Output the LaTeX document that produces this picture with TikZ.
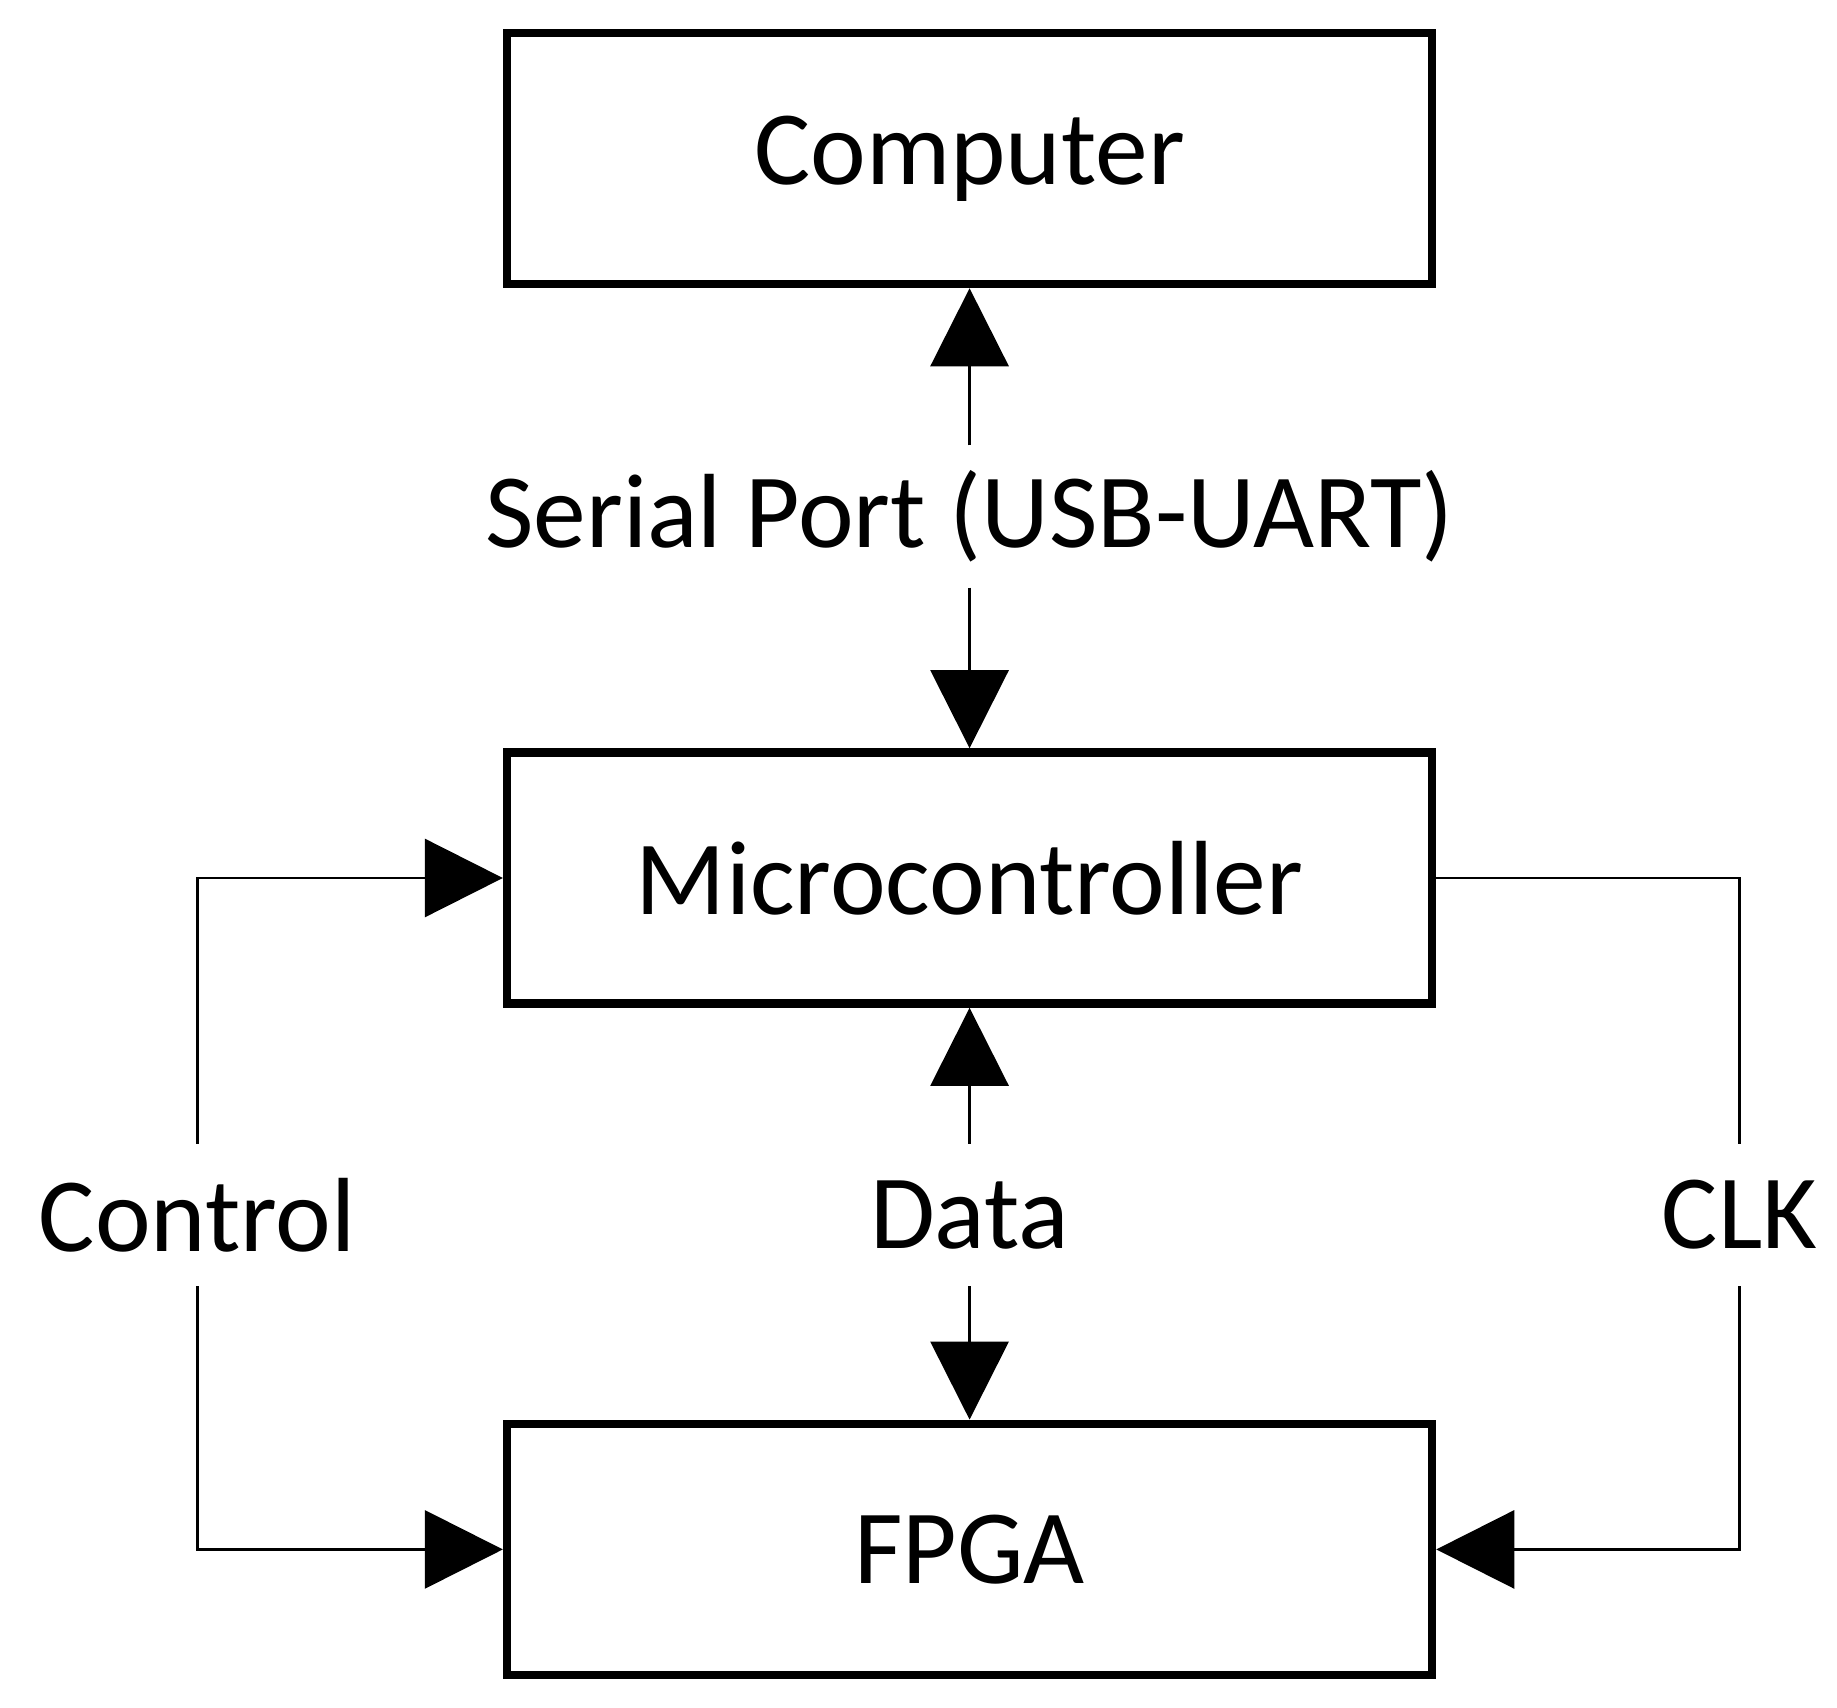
\documentclass[tikz,border=0pt]{standalone}
\usepackage{fontspec}
\setmainfont{Carlito}
\usetikzlibrary{arrows.meta}
\begin{document}
\begin{tikzpicture}[x=0.01174cm,y=-0.01174cm,
  box/.style={draw,line width=2.4pt,minimum width=788*0.01174cm,minimum height=214*0.01174cm,font=\fontsize{30}{36}\selectfont},
  lbl/.style={font=\fontsize{30}{36}\selectfont,inner sep=0pt,minimum height=120*0.01174cm},
  con/.style={line width=0.8pt},
  tip/.style={-{Triangle[length=0.78cm,width=0.78cm]}}]
\useasboundingbox (0,0) rectangle (1565,1455);
\node[box] (comp) at (826,135) {Computer};
\node[box] (mc) at (826,748) {Microcontroller};
\node[box] (fpga) at (826,1320) {FPGA};
\node[lbl] (ser) at (826,440) {Serial Port (USB-UART)};
\node[lbl] (data) at (826,1035) {Data};
\node[lbl] (ctrl) at (168,1035) {Control};
\node[lbl] (clk) at (1482,1035) {CLK};
\draw[con,tip] (ser.north) -- (comp.south);
\draw[con,tip] (ser.south) -- (mc.north);
\draw[con,tip] (data.north) -- (mc.south);
\draw[con,tip] (data.south) -- (fpga.north);
\draw[con,tip] (ctrl.north) |- (mc.west);
\draw[con,tip] (ctrl.south) |- (fpga.west);
\draw[con] (mc.east) -| (clk.north);
\draw[con,tip] (clk.south) |- (fpga.east);
\end{tikzpicture}
\end{document}
